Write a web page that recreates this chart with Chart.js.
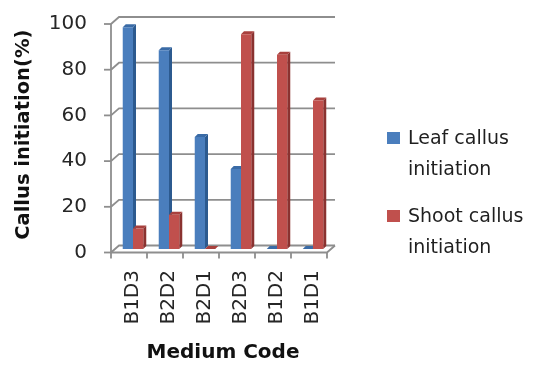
<!DOCTYPE html>
<html>
<head>
<meta charset="utf-8">
<script src="https://cdn.jsdelivr.net/npm/chart.js@4.4.1/dist/chart.umd.min.js"></script>
<style>
  html, body { margin: 0; padding: 0; background: #ffffff; }
  #wrap { width: 539px; height: 365px; }
</style>
</head>
<body>
<div id="wrap"><canvas id="c" width="539" height="365"></canvas></div>
<script>
// Callus initiation (%) per medium code
const mediumCodes = ['B1D3', 'B2D2', 'B2D1', 'B2D3', 'B1D2', 'B1D1'];
const leafCallus  = [97, 87, 49, 35, 0, 0];
const shootCallus = [9, 15, 0, 94, 85, 65];
const yTicks      = [0, 20, 40, 60, 80, 100];
const seriesNames = ['Leaf callus initiation', 'Shoot callus initiation'];

// Plot box (the plane the columns stand in)
const AREA = { left: 115, top: 20.5, right: 331, bottom: 249 };

// Half of the floor depth: the front axis sits DX left / DY below the column plane,
// the back wall DX right / DY above it.
const DX = 4, DY = 3.5;
// Depth of each column (side and top faces)
const BDX = 3, BDY = 3;

const frame3d = {
  id: 'frame3d',
  beforeDatasetsDraw(chart) {
    const { ctx, chartArea: a, scales: { x, y } } = chart;
    const y0 = y.getPixelForValue(yTicks[0]);
    const yMax = y.getPixelForValue(yTicks[yTicks.length - 1]);
    ctx.save();
    ctx.strokeStyle = '#8e8e8e';
    ctx.lineWidth = 1.8;

    // back wall grid lines with their diagonal run from the front axis
    yTicks.forEach(v => {
      const py = y.getPixelForValue(v);
      ctx.beginPath();
      ctx.moveTo(a.left - DX, py + DY);
      ctx.lineTo(a.left + DX, py - DY);
      ctx.lineTo(a.right + DX, py - DY);
      ctx.stroke();
      // value tick on the front axis
      ctx.beginPath();
      ctx.moveTo(a.left - DX - 7, py + DY);
      ctx.lineTo(a.left - DX, py + DY);
      ctx.stroke();
    });

    // front value axis and front edge of the floor
    ctx.beginPath();
    ctx.moveTo(a.left - DX, yMax + DY);
    ctx.lineTo(a.left - DX, y0 + DY);
    ctx.lineTo(a.right - DX, y0 + DY);
    ctx.lineTo(a.right + DX, y0 - DY);
    ctx.stroke();

    // category separators under the floor
    const step = x.getPixelForValue(1) - x.getPixelForValue(0);
    ctx.beginPath();
    for (let i = 0; i <= mediumCodes.length; i++) {
      const px = x.getPixelForValue(i) - step / 2 - DX;
      ctx.moveTo(px, y0 + DY);
      ctx.lineTo(px, y0 + DY + 6);
    }
    ctx.stroke();

    // side and top faces of the columns (front faces come from the bar controller)
    chart.data.datasets.forEach((ds, di) => {
      const meta = chart.getDatasetMeta(di);
      meta.data.forEach(bar => {
        const p = bar.getProps(['x', 'y', 'base', 'width'], true);
        const l = p.x - p.width / 2, r = p.x + p.width / 2;
        const top = Math.min(p.y, p.base), bottom = Math.max(p.y, p.base);
        ctx.fillStyle = ds.sideColor;
        ctx.beginPath();
        ctx.moveTo(r, top);
        ctx.lineTo(r + BDX, top - BDY);
        ctx.lineTo(r + BDX, bottom - BDY);
        ctx.lineTo(r, bottom);
        ctx.closePath();
        ctx.fill();
        ctx.fillStyle = ds.topColor;
        ctx.beginPath();
        ctx.moveTo(l, top);
        ctx.lineTo(l + BDX, top - BDY);
        ctx.lineTo(r + BDX, top - BDY);
        ctx.lineTo(r, top);
        ctx.closePath();
        ctx.fill();
      });
    });
    ctx.restore();
  }
};

function wrapWords(ctx, text, maxWidth) {
  const words = text.split(' ');
  const lines = [];
  let cur = '';
  words.forEach(w => {
    const test = cur ? cur + ' ' + w : w;
    if (cur && ctx.measureText(test).width > maxWidth) {
      lines.push(cur);
      cur = w;
    } else {
      cur = test;
    }
  });
  if (cur) lines.push(cur);
  return lines;
}

// Legend at the right, labels wrapped onto two lines
const sideLegend = {
  id: 'sideLegend',
  afterDraw(chart) {
    const ctx = chart.ctx;
    ctx.save();
    ctx.font = '19px "DejaVu Sans"';
    ctx.textBaseline = 'alphabetic';
    ctx.textAlign = 'left';
    let base = 144;
    chart.data.datasets.forEach(ds => {
      const lines = wrapWords(ctx, ds.label, 140);
      ctx.fillStyle = ds.backgroundColor;
      ctx.fillRect(387, base - 12, 13, 12);
      ctx.fillStyle = '#1f1f1f';
      lines.forEach((ln, k) => ctx.fillText(ln, 408, base + k * 31));
      base += 78;
    });
    ctx.restore();
  }
};

Chart.defaults.font.family = '"DejaVu Sans", sans-serif';

new Chart(document.getElementById('c'), {
  type: 'bar',
  data: {
    labels: mediumCodes,
    datasets: [
      {
        label: seriesNames[0],
        data: leafCallus,
        backgroundColor: '#4a7ebd',
        sideColor: '#2c5a8f',
        topColor: '#3a6ba6',
        borderWidth: 0,
        categoryPercentage: 0.57,
        barPercentage: 1.0
      },
      {
        label: seriesNames[1],
        data: shootCallus,
        backgroundColor: '#c0504d',
        sideColor: '#8a3230',
        topColor: '#a8403d',
        borderWidth: 0,
        categoryPercentage: 0.57,
        barPercentage: 1.0
      }
    ]
  },
  options: {
    responsive: false,
    animation: false,
    layout: { padding: { left: 0, top: AREA.top, right: 539 - AREA.right, bottom: 0 } },
    plugins: {
      legend: { display: false },
      tooltip: { enabled: false }
    },
    scales: {
      x: {
        grid: { display: false, drawTicks: false },
        border: { display: false },
        ticks: {
          autoSkip: false,
          minRotation: 90,
          maxRotation: 90,
          padding: 21,
          color: '#262626',
          font: { size: 20 }
        },
        title: {
          display: true,
          text: 'Medium Code',
          color: '#111111',
          font: { size: 20, weight: 'bold' },
          padding: { top: 0, bottom: 0 }
        },
        afterFit(scale) { scale.height = 365 - AREA.bottom; }
      },
      y: {
        min: 0,
        max: 100,
        // tick marks are drawn on the front plane by frame3d; the hidden tick length
        // only keeps the labels clear of it
        grid: { display: false, drawTicks: true, tickLength: 20 },
        border: { display: false },
        ticks: {
          stepSize: 20,
          padding: 8,
          labelOffset: DY,
          color: '#262626',
          font: { size: 20 }
        },
        title: {
          display: true,
          text: 'Callus initiation(%)',
          color: '#111111',
          font: { size: 19.5, weight: 'bold' },
          padding: { top: 12, bottom: 0 }
        },
        afterFit(scale) { scale.width = AREA.left; }
      }
    }
  },
  plugins: [frame3d, sideLegend]
});
</script>
</body>
</html>
